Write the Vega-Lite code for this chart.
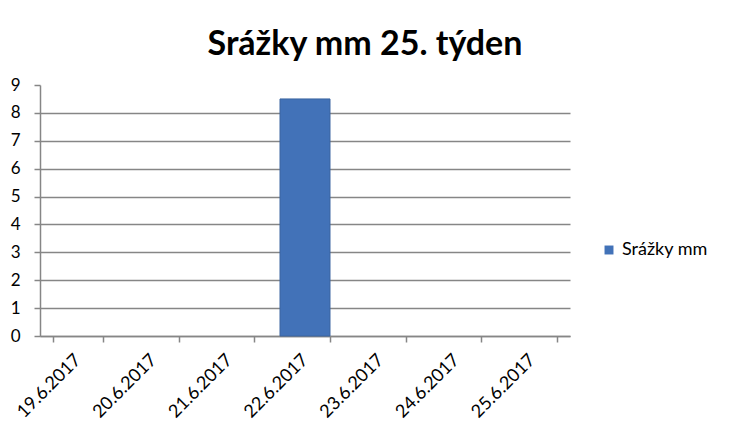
{
  "$schema": "https://vega.github.io/schema/vega-lite/v6.json",
  "width": 530,
  "height": 251,
  "autosize": {"type": "none"},
  "padding": {"left": 40, "top": 85, "right": 160, "bottom": 103},
  "background": "white",
  "title": {
    "text": "Srážky mm 25. týden",
    "font": "Lato",
    "fontSize": 34,
    "fontWeight": "bold",
    "color": "black",
    "anchor": "middle",
    "dx": 60,
    "offset": 14
  },
  "data": {
    "values": [
      {"datum": "19.6.2017", "mm": 0, "serie": "Srážky mm"},
      {"datum": "20.6.2017", "mm": 0, "serie": "Srážky mm"},
      {"datum": "21.6.2017", "mm": 0, "serie": "Srážky mm"},
      {"datum": "22.6.2017", "mm": 8.5, "serie": "Srážky mm"},
      {"datum": "23.6.2017", "mm": 0, "serie": "Srážky mm"},
      {"datum": "24.6.2017", "mm": 0, "serie": "Srážky mm"},
      {"datum": "25.6.2017", "mm": 0, "serie": "Srážky mm"}
    ]
  },
  "mark": {"type": "bar", "stroke": "#3a64a0"},
  "encoding": {
    "x": {
      "field": "datum",
      "type": "nominal",
      "sort": null,
      "scale": {"paddingInner": 0.34, "paddingOuter": 0.17},
      "axis": {
        "title": null,
        "labelAngle": -45,
        "labelAlign": "right",
        "labelBaseline": "middle",
        "labelFont": "Lato",
        "labelFontSize": 18,
        "labelColor": "black",
        "labelPadding": 15,
        "tickBand": "extent",
        "tickSize": 6,
        "tickColor": "#868686",
        "tickWidth": 1.5,
        "domainColor": "#868686",
        "domainWidth": 1.5,
        "grid": false
      }
    },
    "y": {
      "field": "mm",
      "type": "quantitative",
      "scale": {"domain": [0, 9], "nice": false},
      "axis": {
        "title": null,
        "values": [0, 1, 2, 3, 4, 5, 6, 7, 8, 9],
        "labelFont": "Lato",
        "labelFontSize": 17,
        "labelColor": "black",
        "labelPadding": 14,
        "tickSize": 6,
        "tickColor": "#868686",
        "tickWidth": 1.5,
        "domainColor": "#868686",
        "domainWidth": 1.5,
        "grid": true,
        "gridColor": "#868686",
        "gridWidth": 1.5,
        "gridOpacity": {"condition": {"test": "datum.value == 9", "value": 0}, "value": 1}
      }
    },
    "strokeWidth": {"condition": {"test": "datum.mm == 0", "value": 0}, "value": 1},
    "color": {
      "field": "serie",
      "type": "nominal",
      "scale": {"range": ["#4272b8"]},
      "legend": {
        "title": null,
        "orient": "none",
        "legendX": 560,
        "legendY": 156,
        "symbolType": "square",
        "symbolSize": 80,
        "symbolStrokeWidth": 0,
        "labelFont": "Lato",
        "labelFontSize": 18,
        "labelColor": "black"
      }
    }
  },
  "config": {"view": {"stroke": null}}
}
